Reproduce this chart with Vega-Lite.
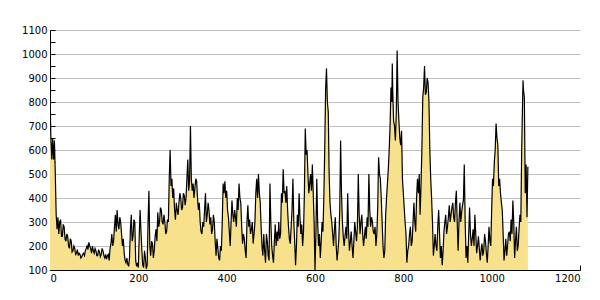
{
  "$schema": "https://vega.github.io/schema/vega-lite/v6.json",
  "width": 530,
  "height": 240,
  "autosize": {"type": "none"},
  "padding": {"left": 50, "top": 30, "right": 20, "bottom": 30},
  "background": "white",
  "config": {"view": {"stroke": null}},
  "data": {"values": [
{"x":0,"y":830},{"x":2,"y":650},{"x":4,"y":560},{"x":6,"y":650},{"x":8,"y":560},{"x":10,"y":640},{"x":12,"y":500},{"x":14,"y":330},{"x":16,"y":270},{"x":18,"y":320},
{"x":20,"y":250},{"x":22,"y":300},{"x":24,"y":310},{"x":26,"y":240},{"x":28,"y":240},{"x":30,"y":290},{"x":32,"y":280},{"x":34,"y":230},{"x":36,"y":220},{"x":38,"y":250},
{"x":40,"y":240},{"x":42,"y":200},{"x":44,"y":190},{"x":46,"y":230},{"x":48,"y":220},{"x":50,"y":175},{"x":52,"y":180},{"x":54,"y":200},{"x":56,"y":190},{"x":58,"y":165},
{"x":60,"y":170},{"x":62,"y":185},{"x":64,"y":160},{"x":66,"y":170},{"x":68,"y":165},{"x":70,"y":150},{"x":72,"y":155},{"x":74,"y":165},{"x":76,"y":170},{"x":78,"y":160},
{"x":80,"y":180},{"x":82,"y":190},{"x":84,"y":200},{"x":86,"y":185},{"x":88,"y":215},{"x":90,"y":200},{"x":92,"y":190},{"x":94,"y":170},{"x":96,"y":200},{"x":98,"y":180},
{"x":100,"y":170},{"x":102,"y":190},{"x":104,"y":180},{"x":106,"y":160},{"x":108,"y":160},{"x":110,"y":185},{"x":112,"y":175},{"x":114,"y":155},{"x":116,"y":165},{"x":118,"y":190},
{"x":120,"y":180},{"x":122,"y":160},{"x":124,"y":150},{"x":126,"y":165},{"x":128,"y":145},{"x":130,"y":160},{"x":132,"y":165},{"x":134,"y":140},{"x":136,"y":190},{"x":138,"y":210},
{"x":140,"y":250},{"x":142,"y":200},{"x":144,"y":220},{"x":146,"y":280},{"x":148,"y":330},{"x":150,"y":260},{"x":152,"y":350},{"x":154,"y":290},{"x":156,"y":270},{"x":158,"y":320},
{"x":160,"y":300},{"x":162,"y":250},{"x":164,"y":200},{"x":166,"y":230},{"x":168,"y":170},{"x":170,"y":140},{"x":172,"y":130},{"x":174,"y":150},{"x":176,"y":125},{"x":178,"y":115},
{"x":180,"y":150},{"x":182,"y":270},{"x":184,"y":330},{"x":186,"y":220},{"x":188,"y":240},{"x":190,"y":310},{"x":192,"y":300},{"x":194,"y":140},{"x":196,"y":115},{"x":198,"y":130},
{"x":200,"y":110},{"x":202,"y":240},{"x":204,"y":350},{"x":206,"y":260},{"x":208,"y":180},{"x":210,"y":120},{"x":212,"y":110},{"x":214,"y":180},{"x":216,"y":150},{"x":218,"y":105},
{"x":220,"y":120},{"x":222,"y":300},{"x":224,"y":430},{"x":226,"y":200},{"x":228,"y":160},{"x":230,"y":220},{"x":232,"y":210},{"x":234,"y":150},{"x":236,"y":180},{"x":238,"y":240},
{"x":240,"y":270},{"x":242,"y":220},{"x":244,"y":340},{"x":246,"y":280},{"x":248,"y":300},{"x":250,"y":360},{"x":252,"y":350},{"x":254,"y":300},{"x":256,"y":290},{"x":258,"y":330},
{"x":260,"y":300},{"x":262,"y":250},{"x":264,"y":260},{"x":266,"y":310},{"x":268,"y":300},{"x":270,"y":480},{"x":272,"y":600},{"x":274,"y":450},{"x":276,"y":480},{"x":278,"y":400},
{"x":280,"y":440},{"x":282,"y":350},{"x":284,"y":310},{"x":286,"y":380},{"x":288,"y":350},{"x":290,"y":330},{"x":292,"y":380},{"x":294,"y":420},{"x":296,"y":400},{"x":298,"y":350},
{"x":300,"y":360},{"x":302,"y":420},{"x":304,"y":410},{"x":306,"y":370},{"x":308,"y":400},{"x":310,"y":480},{"x":312,"y":560},{"x":314,"y":430},{"x":316,"y":470},{"x":318,"y":700},
{"x":320,"y":480},{"x":322,"y":430},{"x":324,"y":460},{"x":326,"y":400},{"x":328,"y":440},{"x":330,"y":480},{"x":332,"y":470},{"x":334,"y":400},{"x":336,"y":350},{"x":338,"y":380},
{"x":340,"y":300},{"x":342,"y":260},{"x":344,"y":250},{"x":346,"y":300},{"x":348,"y":280},{"x":350,"y":350},{"x":352,"y":420},{"x":354,"y":300},{"x":356,"y":330},{"x":358,"y":380},
{"x":360,"y":350},{"x":362,"y":290},{"x":364,"y":320},{"x":366,"y":250},{"x":368,"y":270},{"x":370,"y":330},{"x":372,"y":300},{"x":374,"y":220},{"x":376,"y":160},{"x":378,"y":230},
{"x":380,"y":190},{"x":382,"y":150},{"x":384,"y":140},{"x":386,"y":200},{"x":388,"y":180},{"x":390,"y":300},{"x":392,"y":460},{"x":394,"y":420},{"x":396,"y":470},{"x":398,"y":400},
{"x":400,"y":430},{"x":402,"y":350},{"x":404,"y":320},{"x":406,"y":260},{"x":408,"y":200},{"x":410,"y":300},{"x":412,"y":390},{"x":414,"y":330},{"x":416,"y":300},{"x":418,"y":350},
{"x":420,"y":320},{"x":422,"y":280},{"x":424,"y":400},{"x":426,"y":350},{"x":428,"y":460},{"x":430,"y":400},{"x":432,"y":380},{"x":434,"y":280},{"x":436,"y":210},{"x":438,"y":250},
{"x":440,"y":230},{"x":442,"y":180},{"x":444,"y":150},{"x":446,"y":300},{"x":448,"y":370},{"x":450,"y":280},{"x":452,"y":310},{"x":454,"y":250},{"x":456,"y":270},{"x":458,"y":300},
{"x":460,"y":210},{"x":462,"y":250},{"x":464,"y":300},{"x":466,"y":420},{"x":468,"y":480},{"x":470,"y":400},{"x":472,"y":500},{"x":474,"y":420},{"x":476,"y":380},{"x":478,"y":280},
{"x":480,"y":200},{"x":482,"y":160},{"x":484,"y":250},{"x":486,"y":180},{"x":488,"y":130},{"x":490,"y":250},{"x":492,"y":220},{"x":494,"y":160},{"x":496,"y":140},{"x":498,"y":460},
{"x":500,"y":300},{"x":502,"y":200},{"x":504,"y":160},{"x":506,"y":130},{"x":508,"y":220},{"x":510,"y":290},{"x":512,"y":200},{"x":514,"y":260},{"x":516,"y":220},{"x":518,"y":300},
{"x":520,"y":230},{"x":522,"y":250},{"x":524,"y":420},{"x":526,"y":380},{"x":528,"y":520},{"x":530,"y":420},{"x":532,"y":430},{"x":534,"y":380},{"x":536,"y":450},{"x":538,"y":350},
{"x":540,"y":280},{"x":542,"y":230},{"x":544,"y":210},{"x":546,"y":280},{"x":548,"y":350},{"x":550,"y":480},{"x":552,"y":300},{"x":554,"y":220},{"x":556,"y":120},{"x":558,"y":200},
{"x":560,"y":330},{"x":562,"y":280},{"x":564,"y":420},{"x":566,"y":320},{"x":568,"y":250},{"x":570,"y":290},{"x":572,"y":200},{"x":574,"y":260},{"x":576,"y":420},{"x":578,"y":690},
{"x":580,"y":580},{"x":582,"y":600},{"x":584,"y":500},{"x":586,"y":420},{"x":588,"y":460},{"x":590,"y":500},{"x":592,"y":430},{"x":594,"y":540},{"x":596,"y":420},{"x":598,"y":300},
{"x":600,"y":100},{"x":602,"y":250},{"x":604,"y":480},{"x":606,"y":300},{"x":608,"y":200},{"x":610,"y":250},{"x":612,"y":150},{"x":614,"y":220},{"x":616,"y":300},{"x":618,"y":260},
{"x":620,"y":400},{"x":622,"y":600},{"x":624,"y":850},{"x":626,"y":940},{"x":628,"y":800},{"x":630,"y":760},{"x":632,"y":500},{"x":634,"y":380},{"x":636,"y":330},{"x":638,"y":300},
{"x":640,"y":250},{"x":642,"y":200},{"x":644,"y":270},{"x":646,"y":320},{"x":648,"y":200},{"x":650,"y":140},{"x":652,"y":180},{"x":654,"y":230},{"x":656,"y":350},{"x":658,"y":640},
{"x":660,"y":420},{"x":662,"y":300},{"x":664,"y":240},{"x":666,"y":200},{"x":668,"y":240},{"x":670,"y":280},{"x":672,"y":230},{"x":674,"y":420},{"x":676,"y":260},{"x":678,"y":180},
{"x":680,"y":220},{"x":682,"y":260},{"x":684,"y":200},{"x":686,"y":150},{"x":688,"y":220},{"x":690,"y":300},{"x":692,"y":260},{"x":694,"y":220},{"x":696,"y":280},{"x":698,"y":500},
{"x":700,"y":330},{"x":702,"y":250},{"x":704,"y":300},{"x":706,"y":330},{"x":708,"y":250},{"x":710,"y":200},{"x":712,"y":240},{"x":714,"y":280},{"x":716,"y":230},{"x":718,"y":320},
{"x":720,"y":280},{"x":722,"y":500},{"x":724,"y":350},{"x":726,"y":280},{"x":728,"y":320},{"x":730,"y":300},{"x":732,"y":260},{"x":734,"y":250},{"x":736,"y":280},{"x":738,"y":200},
{"x":740,"y":250},{"x":742,"y":360},{"x":744,"y":570},{"x":746,"y":500},{"x":748,"y":480},{"x":750,"y":400},{"x":752,"y":300},{"x":754,"y":200},{"x":756,"y":150},{"x":758,"y":180},
{"x":760,"y":330},{"x":762,"y":400},{"x":764,"y":460},{"x":766,"y":520},{"x":768,"y":600},{"x":770,"y":700},{"x":772,"y":860},{"x":774,"y":800},{"x":775,"y":960},{"x":776,"y":850},
{"x":778,"y":720},{"x":780,"y":700},{"x":782,"y":640},{"x":784,"y":750},{"x":786,"y":1015},{"x":788,"y":800},{"x":790,"y":720},{"x":792,"y":650},{"x":794,"y":620},{"x":796,"y":680},
{"x":798,"y":480},{"x":800,"y":420},{"x":802,"y":360},{"x":804,"y":300},{"x":806,"y":250},{"x":808,"y":130},{"x":810,"y":180},{"x":812,"y":200},{"x":814,"y":250},{"x":816,"y":280},
{"x":818,"y":200},{"x":820,"y":220},{"x":822,"y":300},{"x":824,"y":380},{"x":826,"y":300},{"x":828,"y":260},{"x":830,"y":400},{"x":832,"y":480},{"x":834,"y":420},{"x":836,"y":500},
{"x":838,"y":330},{"x":840,"y":450},{"x":842,"y":600},{"x":844,"y":820},{"x":846,"y":860},{"x":848,"y":950},{"x":850,"y":830},{"x":852,"y":840},{"x":854,"y":900},{"x":856,"y":880},
{"x":858,"y":800},{"x":860,"y":600},{"x":862,"y":480},{"x":864,"y":400},{"x":866,"y":300},{"x":868,"y":160},{"x":870,"y":200},{"x":872,"y":250},{"x":874,"y":200},{"x":876,"y":180},
{"x":878,"y":280},{"x":880,"y":350},{"x":882,"y":250},{"x":884,"y":150},{"x":886,"y":200},{"x":888,"y":120},{"x":890,"y":180},{"x":892,"y":260},{"x":894,"y":300},{"x":896,"y":330},
{"x":898,"y":250},{"x":900,"y":280},{"x":902,"y":320},{"x":904,"y":370},{"x":906,"y":300},{"x":908,"y":330},{"x":910,"y":360},{"x":912,"y":380},{"x":914,"y":320},{"x":916,"y":300},
{"x":918,"y":380},{"x":920,"y":430},{"x":922,"y":300},{"x":924,"y":180},{"x":926,"y":300},{"x":928,"y":380},{"x":930,"y":300},{"x":932,"y":340},{"x":934,"y":370},{"x":936,"y":390},
{"x":938,"y":540},{"x":940,"y":300},{"x":942,"y":150},{"x":944,"y":200},{"x":946,"y":130},{"x":948,"y":250},{"x":950,"y":360},{"x":952,"y":250},{"x":954,"y":200},{"x":956,"y":230},
{"x":958,"y":270},{"x":960,"y":200},{"x":962,"y":330},{"x":964,"y":250},{"x":966,"y":170},{"x":968,"y":200},{"x":970,"y":240},{"x":972,"y":190},{"x":974,"y":140},{"x":976,"y":180},
{"x":978,"y":210},{"x":980,"y":160},{"x":982,"y":180},{"x":984,"y":250},{"x":986,"y":220},{"x":988,"y":170},{"x":990,"y":130},{"x":992,"y":200},{"x":994,"y":280},{"x":996,"y":220},
{"x":998,"y":200},{"x":1000,"y":350},{"x":1002,"y":480},{"x":1004,"y":450},{"x":1006,"y":550},{"x":1008,"y":600},{"x":1010,"y":710},{"x":1012,"y":650},{"x":1014,"y":620},{"x":1016,"y":450},
{"x":1018,"y":480},{"x":1020,"y":420},{"x":1022,"y":380},{"x":1024,"y":350},{"x":1026,"y":250},{"x":1028,"y":140},{"x":1030,"y":180},{"x":1032,"y":230},{"x":1034,"y":160},{"x":1036,"y":200},
{"x":1038,"y":250},{"x":1040,"y":260},{"x":1042,"y":220},{"x":1044,"y":310},{"x":1046,"y":250},{"x":1048,"y":390},{"x":1050,"y":300},{"x":1052,"y":150},{"x":1054,"y":220},{"x":1056,"y":280},
{"x":1058,"y":180},{"x":1060,"y":200},{"x":1062,"y":270},{"x":1064,"y":330},{"x":1066,"y":300},{"x":1068,"y":600},{"x":1070,"y":800},{"x":1071,"y":890},{"x":1072,"y":850},{"x":1074,"y":820},
{"x":1076,"y":420},{"x":1078,"y":540},{"x":1080,"y":320},{"x":1082,"y":530}
  ]},
  "mark": {"type": "area", "color": "#f7e18c", "opacity": 1, "clip": true, "line": {"color": "black", "strokeWidth": 1.2}},
  "encoding": {
    "x": {
      "field": "x", "type": "quantitative",
      "scale": {"domain": [0, 1200], "nice": false, "zero": false},
      "axis": {"title": null, "values": [0, 200, 400, 600, 800, 1000, 1200], "format": "d", "grid": false,
        "domainColor": "black", "tickColor": "black", "tickSize": -5, "labelPadding": 8,
        "labelFont": "DejaVu Sans", "labelFontSize": 10, "labelColor": "black"}
    },
    "y": {
      "field": "y", "type": "quantitative",
      "scale": {"domain": [100, 1100], "nice": false, "zero": false},
      "axis": {"title": null,
        "values": [100,150,200,250,300,350,400,450,500,550,600,650,700,750,800,850,900,950,1000,1050,1100],
        "labelExpr": "datum.value % 100 == 0 ? datum.label : ''", "format": "d",
        "grid": true, "gridColor": "#c0c0c0",
        "gridOpacity": {"condition": {"test": "datum.value % 100 == 0 && datum.value > 100", "value": 1}, "value": 0},
        "domainColor": "black", "tickColor": "black", "tickSize": -5, "labelPadding": 8,
        "labelFont": "DejaVu Sans", "labelFontSize": 10, "labelColor": "black"}
    }
  }
}
